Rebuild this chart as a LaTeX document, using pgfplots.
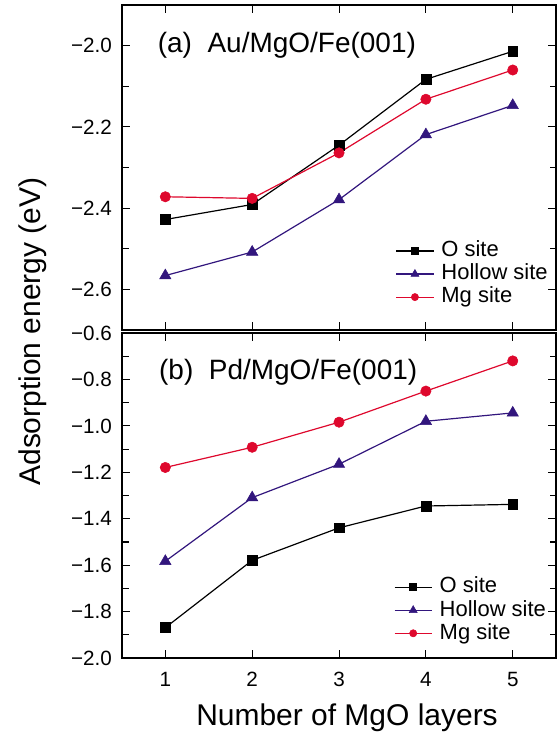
\documentclass[border=0pt]{standalone}
\usepackage{fontspec}
\setmainfont{Liberation Sans}
\usepackage{pgfplots}
\pgfplotsset{compat=1.18}
\usetikzlibrary{calc}

\definecolor{hollowc}{RGB}{50,22,125}
\definecolor{mgc}{RGB}{222,8,45}

\pgfplotsset{
  panel/.style={
    scale only axis, width=326pt, height=244pt,
    xmin=0.5, xmax=5.5,
    xtick={1,2,3,4,5},
    axis line style={line width=1.1pt},
    major tick length=6pt, minor tick length=5pt,
    every tick/.style={black, line width=0.8pt},
    tick label style={font=\fontsize{15.5}{17}\selectfont},
    yticklabel style={xshift=-4pt},
    xticklabel style={yshift=-7pt},
    legend cell align=left,
    legend style={draw=none, fill=none, font=\fontsize{16.5}{19}\selectfont,
      row sep=0pt, column sep=5pt, inner sep=0pt,
      nodes={inner sep=0.5pt, text height=12.5pt, text depth=3.8pt}},
    legend image code/.code={
      \draw[mark repeat=2,mark phase=2] plot coordinates {(0cm,0cm) (0.49cm,0cm) (0.98cm,0cm)};},
    legend image post style={/tikz/every mark/.append style={scale=0.7}},
  },
  osite/.style={black, line width=0.9pt, mark=square*, mark size=3.7pt,
    mark options={solid, line width=0.4pt}},
  hsite/.style={hollowc, line width=0.9pt, mark=triangle*, mark size=4.9pt,
    mark options={solid, line width=0.4pt}},
  msite/.style={mgc, line width=0.9pt, mark=*, mark size=3.9pt,
    mark options={solid, line width=0.4pt}},
}

\begin{document}
\begin{tikzpicture}
\begin{axis}[panel, name=top,
  ymin=-2.7, ymax=-1.9,
  ytick={-2.6,-2.4,-2.2,-2.0},
  yticklabels={−2.6,−2.4,−2.2,−2.0},
  minor ytick={-2.5,-2.3,-2.1},
  xticklabels={},
  legend style={at={(0.63,0.065)}, anchor=south west}]
\addplot[osite] coordinates {(1,-2.428) (2,-2.391) (3,-2.245) (4,-2.083) (5,-2.014)};
\addplot[hsite] coordinates {(1,-2.566) (2,-2.508) (3,-2.379) (4,-2.219) (5,-2.147)};
\addplot[msite] coordinates {(1,-2.372) (2,-2.376) (3,-2.264) (4,-2.132) (5,-2.060)};
\legend{O site, Hollow site, Mg site}
\node[anchor=west, font=\fontsize{21}{25}\selectfont] at (rel axis cs:0.072,0.877) {(a)\ \ Au/MgO/Fe(001)};
\end{axis}

\begin{axis}[panel, name=bot,
  at={($(top.south west)+(0,-2.25pt)$)}, anchor=north west,
  ymin=-2.0, ymax=-0.6,
  ytick={-2.0,-1.8,-1.6,-1.4,-1.2,-1.0,-0.8,-0.6},
  yticklabels={−2.0,−1.8,−1.6,−1.4,−1.2,−1.0,−0.8,−0.6},
  minor ytick={-1.9,-1.7,-1.5,-1.3,-1.1,-0.9,-0.7},
  xticklabels={1,2,3,4,5},
  legend style={at={(0.626,0.04)}, anchor=south west}]
\addplot[osite] coordinates {(1,-1.869) (2,-1.579) (3,-1.439) (4,-1.345) (5,-1.338)};
\addplot[hsite] coordinates {(1,-1.583) (2,-1.309) (3,-1.165) (4,-0.980) (5,-0.944)};
\addplot[msite] coordinates {(1,-1.179) (2,-1.092) (3,-0.984) (4,-0.850) (5,-0.720)};
\legend{O site, Hollow site, Mg site}
\node[anchor=west, font=\fontsize{21}{25}\selectfont] at (rel axis cs:0.075,0.88) {(b)\ \ Pd/MgO/Fe(001)};
\end{axis}

\node[rotate=90, font=\fontsize{22.5}{26}\selectfont]
  at ($(top.south west)!0.5!(bot.north west)+(-67pt,0)$) {Adsorption energy (eV)};
\node[font=\fontsize{22.5}{26}\selectfont]
  at ($(bot.south)+(6pt,-45pt)$) {Number of MgO layers};

\pgfresetboundingbox
\path[use as bounding box] ($(top.north west)+(-91.5pt,3.75pt)$) rectangle ($(bot.south east)+(0.75pt,-63.75pt)$);
\end{tikzpicture}
\end{document}
